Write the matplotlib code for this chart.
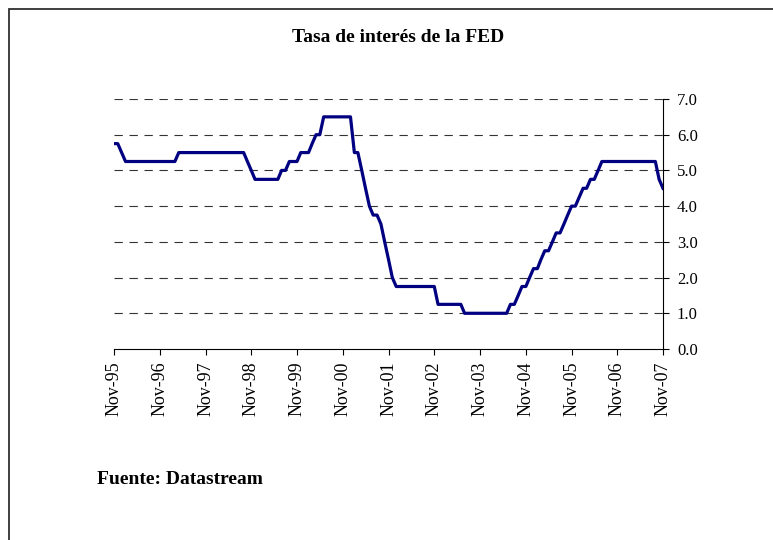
import matplotlib
matplotlib.use("Agg")
import matplotlib.pyplot as plt
from matplotlib.patches import Rectangle
import pandas as pd

# Tasa objetivo de la FED, datos mensuales Nov-95 .. Nov-07
tasa = [
    5.75, 5.75, 5.5, 5.25, 5.25, 5.25, 5.25, 5.25, 5.25, 5.25, 5.25, 5.25,   # Nov-95
    5.25, 5.25, 5.25, 5.25, 5.25, 5.5, 5.5, 5.5, 5.5, 5.5, 5.5, 5.5,         # Nov-96
    5.5, 5.5, 5.5, 5.5, 5.5, 5.5, 5.5, 5.5, 5.5, 5.5, 5.5, 5.25,             # Nov-97
    5.0, 4.75, 4.75, 4.75, 4.75, 4.75, 4.75, 4.75, 5.0, 5.0, 5.25, 5.25,     # Nov-98
    5.25, 5.5, 5.5, 5.5, 5.75, 6.0, 6.0, 6.5, 6.5, 6.5, 6.5, 6.5,            # Nov-99
    6.5, 6.5, 6.5, 5.5, 5.5, 5.0, 4.5, 4.0, 3.75, 3.75, 3.5, 3.0,            # Nov-00
    2.5, 2.0, 1.75, 1.75, 1.75, 1.75, 1.75, 1.75, 1.75, 1.75, 1.75, 1.75,    # Nov-01
    1.75, 1.25, 1.25, 1.25, 1.25, 1.25, 1.25, 1.25, 1.0, 1.0, 1.0, 1.0,      # Nov-02
    1.0, 1.0, 1.0, 1.0, 1.0, 1.0, 1.0, 1.0, 1.25, 1.25, 1.5, 1.75,           # Nov-03
    1.75, 2.0, 2.25, 2.25, 2.5, 2.75, 2.75, 3.0, 3.25, 3.25, 3.5, 3.75,      # Nov-04
    4.0, 4.0, 4.25, 4.5, 4.5, 4.75, 4.75, 5.0, 5.25, 5.25, 5.25, 5.25,       # Nov-05
    5.25, 5.25, 5.25, 5.25, 5.25, 5.25, 5.25, 5.25, 5.25, 5.25, 5.25, 4.75,  # Nov-06
    4.5,                                                                      # Nov-07
]
fechas = pd.date_range("1995-11-01", periods=len(tasa), freq="MS")

anios_ticks = pd.date_range("1995-11-01", "2007-11-01", freq="12MS")
etiquetas_x = ["Nov-95", "Nov-96", "Nov-97", "Nov-98", "Nov-99", "Nov-00", "Nov-01",
               "Nov-02", "Nov-03", "Nov-04", "Nov-05", "Nov-06", "Nov-07"]
ticks_y = [0, 1, 2, 3, 4, 5, 6, 7]

plt.rcParams['font.family'] = ['Liberation Serif', 'DejaVu Serif']

fig = plt.figure(figsize=(7.73, 5.40), dpi=100)
ax = fig.add_axes([114 / 773, 1 - 349 / 540, (663 - 114) / 773, (349 - 99) / 540])

# marco de la figura (solo se ven los lados izquierdo y superior)
fig.patches.append(Rectangle((8.5 / 773, -0.1), 1.2, 1 - 8.5 / 540 + 0.1,
                             transform=fig.transFigure, fill=False,
                             edgecolor='#303030', linewidth=1.3))

# lineas de referencia discontinuas
for v in ticks_y[1:]:
    ax.axhline(v, color='#333333', linewidth=0.8, dashes=(7.5, 6), zorder=1)

ax.plot(fechas, tasa, color='#000080', linewidth=2.3, zorder=3)

ax.set_xlim(fechas[0], fechas[-1])
ax.set_ylim(0, 7)

ax.set_xticks(anios_ticks)
ax.set_xticklabels(etiquetas_x, rotation=90, fontsize=13)
ax.set_yticks(ticks_y)
ax.set_yticklabels([f"{v:.1f}" for v in ticks_y], fontsize=12)

ax.yaxis.tick_right()
ax.tick_params(axis='y', direction='out', length=4, width=0.8, pad=6, colors='black')
ax.tick_params(axis='x', direction='out', length=4, width=0.8, pad=5, colors='black')

for lado in ['left', 'top']:
    ax.spines[lado].set_visible(False)
for lado in ['right', 'bottom']:
    ax.spines[lado].set_linewidth(0.8)
    ax.spines[lado].set_color('black')

fig.text(398 / 773, 1 - 38 / 540, "Tasa de interés de la FED", ha='center', va='center',
         fontsize=14, fontweight='bold')
fig.text(97 / 773, 1 - 480 / 540, "Fuente: Datastream", ha='left', va='center',
         fontsize=14, fontweight='bold')

fig.savefig("out.png", dpi=100)
